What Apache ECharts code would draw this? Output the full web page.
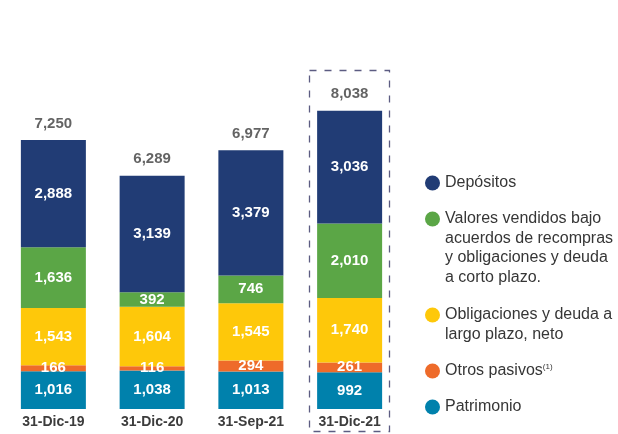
<!DOCTYPE html>
<html>
<head>
<meta charset="utf-8">
<script src="https://cdn.jsdelivr.net/npm/echarts@6/dist/echarts.min.js"></script>
<style>
  html, body { margin: 0; padding: 0; background: #fff; }
  #chart { width: 618px; height: 434px; }
</style>
</head>
<body>
<div id="chart"></div>
<script>
// categories (periods)
const periods = ['31-Dic-19', '31-Dic-20', '31-Sep-21', '31-Dic-21'];

// stacked components, bottom to top
const patrimonio = [1016, 1038, 1013, 992];
const otrosPasivos = [166, 116, 294, 261];
const obligacionesLargo = [1543, 1604, 1545, 1740];
const valoresVendidos = [1636, 392, 746, 2010];
const depositos = [2888, 3139, 3379, 3036];

// totals shown above each bar
const totals = [7250, 6289, 6977, 8038];

const seriesNames = [
    'Patrimonio',
    'Otros pasivos',
    'Obligaciones y deuda a largo plazo, neto',
    'Valores vendidos bajo acuerdos de recompras y obligaciones y deuda a corto plazo.',
    'Depósitos'
];
const seriesData = [patrimonio, otrosPasivos, obligacionesLargo, valoresVendidos, depositos];
const colors = ['#0081ac', '#ee6b2a', '#fec80a', '#5ba646', '#213c75'];

var myChart = echarts.init(document.getElementById('chart'));

const fmt = v => Number(v).toLocaleString('en-US');

var barSeries = seriesNames.map((name, i) => ({
    name: name,
    type: 'bar',
    stack: 'total',
    barWidth: 65,
    data: seriesData[i],
    itemStyle: { color: colors[i] },
    label: {
        show: true,
        position: 'inside',
        color: '#fff',
        fontFamily: 'Liberation Sans',
        fontWeight: 'bold',
        fontSize: 15,
        formatter: p => fmt(p.value)
    }
}));

// totals sit on top of the stacks
barSeries.push({
    name: 'Total',
    type: 'scatter',
    symbolSize: 0,
    data: totals,
    silent: true,
    label: {
        show: true,
        position: 'top',
        distance: 9,
        color: '#3c3c3c',
        fontFamily: 'Liberation Sans',
        fontWeight: 'bold',
        fontSize: 15,
        formatter: p => fmt(p.value)
    }
});

// legend, one block per entry so the icon lines up with the first text line
const legendText = {
    color: '#363636',
    fontFamily: 'Liberation Sans',
    fontSize: 16,
    lineHeight: 19.5,
    rich: {
        sup: { fontSize: 8, padding: [0, 0, 9, 0], color: '#363636' }
    }
};
function legendBlock(name, top, label) {
    return {
        data: [name],
        orient: 'vertical',
        left: 425,
        top: top,
        padding: 0,
        itemWidth: 15,
        itemHeight: 15,
        itemGap: 0,
        icon: 'circle',
        selectedMode: false,
        textStyle: legendText,
        formatter: () => label
    };
}

var option = {
    animation: false,
    color: colors,
    grid: { left: 4, right: 219, top: 38, bottom: 25 },
    legend: [
        legendBlock('Depósitos', 183 - 9.75, 'Depósitos'),
        legendBlock(seriesNames[3], 219 - 68.25,
            '\n\n\nValores vendidos bajo\nacuerdos de recompras\ny obligaciones y deuda\na corto plazo.'),
        legendBlock(seriesNames[2], 315 - 29.25, '\nObligaciones y deuda a\nlargo plazo, neto'),
        legendBlock('Otros pasivos', 371 - 9.75, 'Otros pasivos{sup|(1)}'),
        legendBlock('Patrimonio', 407 - 9.75, 'Patrimonio')
    ],
    xAxis: {
        type: 'category',
        data: periods,
        axisLine: { show: false },
        axisTick: { show: false },
        axisLabel: {
            margin: 6,
            color: '#3c3c3c',
            fontFamily: 'Liberation Sans',
            fontWeight: 'bold',
            fontSize: 14
        }
    },
    yAxis: {
        type: 'value',
        min: 0,
        max: 10000,
        show: false,
        splitLine: { show: false }
    },
    graphic: [{
        // dashed frame around the latest period
        type: 'rect',
        shape: { x: 309.5, y: 70.5, width: 80, height: 361 },
        style: { fill: 'none', stroke: '#5c5c82', lineWidth: 1.3, lineDash: [7, 8] },
        silent: true
    }],
    series: barSeries
};

myChart.setOption(option);
</script>
</body>
</html>
